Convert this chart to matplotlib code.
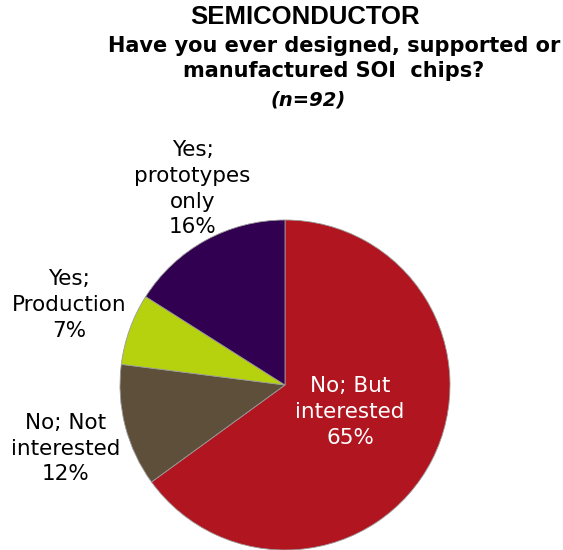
import matplotlib
matplotlib.use("Agg")
import matplotlib.pyplot as plt

categories = ["No; But\ninterested", "No; Not\ninterested", "Yes;\nProduction", "Yes;\nprototypes\nonly"]
shares = [65, 12, 7, 16]
colors = ["#B1151F", "#5E4F3B", "#B6D20F", "#320050"]
text_colors = ["white", "black", "black", "black"]
# label anchor points in data units (pie radius = 1)
label_xy = [(0.394, -0.165), (-1.33, -0.385), (-1.31, 0.485), (-0.56, 1.19)]

fig = plt.figure(figsize=(5.63, 5.5), dpi=100)
ax = fig.add_axes([120 / 563, 0.0, 330 / 563, 330 / 550])
ax.pie(shares, colors=colors, startangle=90, counterclock=False,
       wedgeprops=dict(linewidth=0.6, edgecolor="#9a9a9a"))
ax.set_xlim(-1, 1)
ax.set_ylim(-1, 1)
ax.set_aspect("equal")
ax.axis("off")

for cat, val, (x, y), tc in zip(categories, shares, label_xy, text_colors):
    ax.text(x, y, f"{cat}\n{val}%", ha="center", va="center", color=tc,
            fontsize=15.5, family="DejaVu Sans", linespacing=1.36, clip_on=False)

fig.text(305 / 563, 1 - 17 / 550, "SEMICONDUCTOR", ha="center", va="center",
         fontsize=18.5, fontweight="bold", family="Liberation Sans")
fig.text(334 / 563, 1 - 58.5 / 550, "Have you ever designed, supported or\nmanufactured SOI  chips?",
         ha="center", va="center", fontsize=15, fontweight="bold",
         family="DejaVu Sans", linespacing=1.36)
fig.text(308 / 563, 1 - 100 / 550, "(n=92)", ha="center", va="center",
         fontsize=14, fontweight="bold", fontstyle="italic", family="DejaVu Sans")

fig.savefig("out.png", dpi=100)
